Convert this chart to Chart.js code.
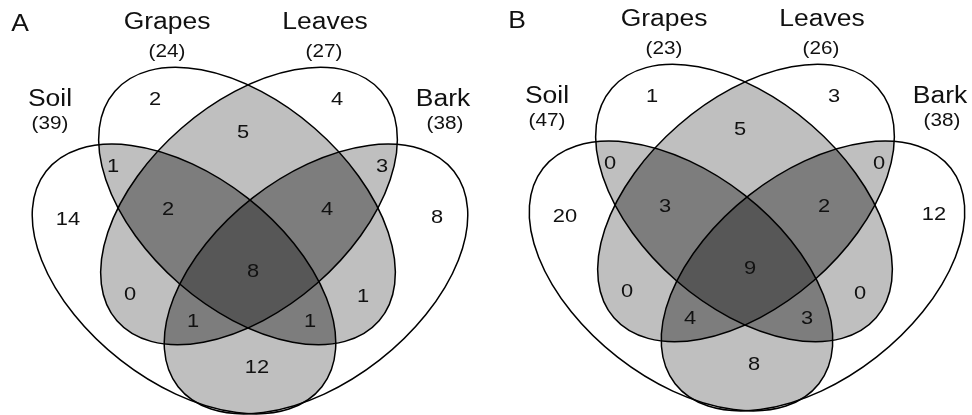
<!DOCTYPE html>
<html>
<head>
<meta charset="utf-8">
<script src="https://cdn.jsdelivr.net/npm/chart.js@4"></script>
<style>
  html, body { margin: 0; padding: 0; background: #fff; }
  #wrap { width: 972px; height: 415px; }
</style>
</head>
<body>
<div id="wrap"><canvas id="venn" width="972" height="415"></canvas></div>
<script>
// --- data ---
const setNames = ['Soil', 'Grapes', 'Leaves', 'Bark'];
const panels = ['A', 'B'];
const totalsA = [39, 24, 27, 38];
const totalsB = [47, 23, 26, 38];
// S = Soil, G = Grapes, L = Leaves, B = Bark
const regionKeys = ['S', 'G', 'L', 'B', 'SG', 'GL', 'LB', 'SL', 'GB', 'SB', 'SGL', 'GLB', 'SLB', 'SGB', 'SGLB'];
const countsA = [14, 2, 4, 8, 1, 5, 3, 0, 1, 12, 2, 4, 1, 1, 8];
const countsB = [20, 1, 3, 12, 0, 5, 0, 0, 0, 8, 3, 2, 4, 3, 9];

// --- layout (axis units, panel A frame) ---
const panelOffset = [[0, 0], [497, -3]];
const shapes = [ // cx, cy, semi-major, semi-minor, angle (deg)
  [184, 279, 175, 103, 38],
  [247, 206, 175, 103, 41],
  [249, 206, 175, 103, -41],
  [316, 279, 175, 103, -38],
];
const regionPos = {
  S: [68, 220], G: [155, 100], L: [337, 100], B: [437, 218],
  SG: [113, 167], GL: [243, 133], LB: [382, 167], SL: [130, 295],
  GB: [363, 297], SB: [257, 368], SGL: [168, 210], GLB: [327, 210],
  SLB: [193, 322], SGB: [310, 322], SGLB: [253, 272],
};
const namePos = [[50, 100], [167, 23], [325, 23], [443, 100]];
const totalPos = [[50, 124], [167, 52], [324, 52], [445, 124]];
const letterPos = [20, 25];
const shades = ['#bfbfbf', '#7d7d7d', '#575757']; // 2, 3, 4 sets overlapping
const FONT = '"Liberation Sans", Arial, sans-serif';
const STRETCH = 1.15; // text in the figure is a bit wide

const totals = [totalsA, totalsB];
const counts = [countsA, countsB];

function wideText(ctx, text, x, y) {
  ctx.save();
  ctx.translate(x, y);
  ctx.scale(STRETCH, 1);
  ctx.fillText(text, 0, 0);
  ctx.restore();
}

const vennPlugin = {
  id: 'venn',
  afterDraw(chart) {
    const ctx = chart.ctx;
    const xs = chart.scales.x, ys = chart.scales.y;
    const kx = Math.abs(xs.getPixelForValue(1) - xs.getPixelForValue(0));
    const ky = Math.abs(ys.getPixelForValue(1) - ys.getPixelForValue(0));

    panels.forEach((letter, p) => {
      const [ox, oy] = panelOffset[p];
      const px = v => xs.getPixelForValue(v + ox);
      const py = v => ys.getPixelForValue(v + oy);

      const paths = shapes.map(([cx, cy, a, b, deg]) => {
        const path = new Path2D();
        path.ellipse(px(cx), py(cy), a * kx, b * ky, deg * Math.PI / 180, 0, 2 * Math.PI);
        return path;
      });

      // shade overlaps by how many sets cover them
      const masks = [];
      for (let m = 1; m < 16; m++) {
        const n = [0, 1, 2, 3].filter(i => m & (1 << i)).length;
        if (n >= 2) masks.push([m, n]);
      }
      masks.sort((a, b) => a[1] - b[1]);
      masks.forEach(([m, n]) => {
        ctx.save();
        [0, 1, 2, 3].forEach(i => { if (m & (1 << i)) ctx.clip(paths[i]); });
        ctx.fillStyle = shades[n - 2];
        ctx.fillRect(0, 0, chart.width, chart.height);
        ctx.restore();
      });

      ctx.save();
      ctx.strokeStyle = '#000';
      ctx.lineWidth = 1.5;
      paths.forEach(path => ctx.stroke(path));

      ctx.fillStyle = '#111';
      ctx.textAlign = 'center';
      ctx.textBaseline = 'middle';

      ctx.font = '19px ' + FONT;
      regionKeys.forEach((k, i) => {
        const [x, y] = regionPos[k];
        wideText(ctx, String(counts[p][i]), px(x), py(y));
      });

      setNames.forEach((name, i) => {
        ctx.font = '23px ' + FONT;
        wideText(ctx, name, px(namePos[i][0]), py(namePos[i][1]));
        ctx.font = '18px ' + FONT;
        wideText(ctx, '(' + totals[p][i] + ')', px(totalPos[i][0]), py(totalPos[i][1]));
      });

      ctx.font = '23px ' + FONT;
      wideText(ctx, letter, px(letterPos[0]), py(letterPos[1]));
      ctx.restore();
    });
  }
};

new Chart(document.getElementById('venn').getContext('2d'), {
  type: 'scatter',
  data: { datasets: [] },
  options: {
    responsive: false,
    animation: false,
    layout: { padding: 0 },
    scales: {
      x: { type: 'linear', min: 0, max: 972, display: false },
      y: { type: 'linear', min: 0, max: 415, reverse: true, display: false },
    },
    plugins: { legend: { display: false }, tooltip: { enabled: false } },
  },
  plugins: [vennPlugin],
});
</script>
</body>
</html>
